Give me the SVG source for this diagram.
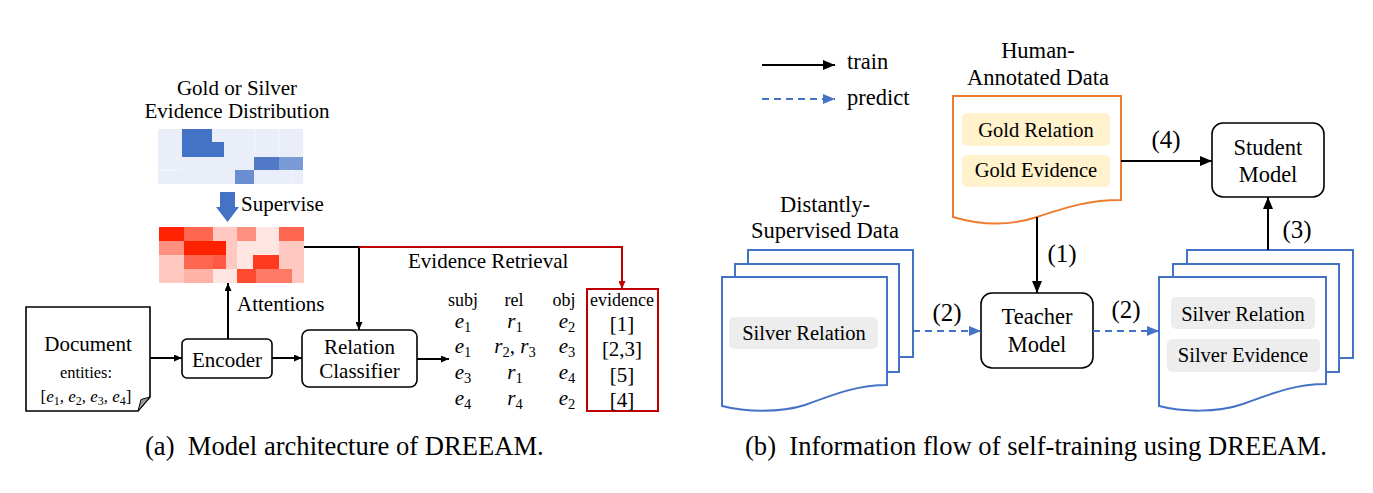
<svg xmlns="http://www.w3.org/2000/svg" width="1373" height="493" viewBox="0 0 1373 493">
<style>
text{font-family:"Liberation Serif","Times New Roman",serif;fill:#000}
.l{font-size:21px}
.r{font-size:22.5px}
.in{font-size:20.5px}
.num{font-size:25px}
.hd{font-size:18px}
.cap{font-size:26.6px}
.c{text-anchor:middle}
.box{fill:#fff;stroke:#000;stroke-width:1.6}
.ln{fill:none;stroke:#000;stroke-width:2}
.bl{fill:none;stroke:#4472c4;stroke-width:2;stroke-dasharray:7,5}
.red{fill:none;stroke:#c00000;stroke-width:2}
.bdoc{fill:#fff;stroke:#4472c4;stroke-width:2}
.gold{fill:#fff2cc}
.silv{fill:#ededed}
.i{font-style:italic}
</style>
<defs>
<marker id="as" markerUnits="userSpaceOnUse" markerWidth="8" markerHeight="7" refX="8" refY="3.5" orient="auto"><path d="M0,0 L8,3.5 L0,7 Z" fill="#000"/></marker>
<marker id="ab" markerUnits="userSpaceOnUse" markerWidth="12" markerHeight="10" refX="12" refY="5" orient="auto"><path d="M0,0 L12,5 L0,10 Z" fill="#000"/></marker>
<marker id="abl" markerUnits="userSpaceOnUse" markerWidth="12" markerHeight="10" refX="12" refY="5" orient="auto"><path d="M0,0 L12,5 L0,10 Z" fill="#4472c4"/></marker>
<marker id="ar" markerUnits="userSpaceOnUse" markerWidth="8" markerHeight="7" refX="8" refY="3.5" orient="auto"><path d="M0,0 L8,3.5 L0,7 Z" fill="#c00000"/></marker>
</defs>

<!-- (a) left panel -->
<g id="gold-silver-dist">
<text class="l c" x="237" y="95">Gold or Silver</text>
<text class="l c" x="237" y="118">Evidence Distribution</text>
<rect x="158" y="129" width="145" height="55" fill="#e9eef8"/>
<g stroke="#f4f7fc" stroke-width="1">
<line x1="255" y1="129" x2="255" y2="157"/><line x1="279" y1="129" x2="279" y2="157"/><line x1="292" y1="170" x2="292" y2="184"/>
<line x1="158" y1="170" x2="182" y2="170"/>
</g>
<rect x="182" y="129" width="30" height="28" fill="#4472c4"/>
<rect x="212" y="142" width="12" height="15" fill="#4472c4"/>
<rect x="254" y="157" width="25" height="13" fill="#5079c8"/>
<rect x="279" y="157" width="24" height="13" fill="#7a9ad6"/>
<rect x="235" y="170" width="19" height="14" fill="#6a8ed2"/>
</g>
<g id="supervise">
<path d="M220,192 H235 V207 H239 L227.5,222 L216,207 H220 Z" fill="#4472c4"/>
<text class="l" x="241" y="211">Supervise</text>
</g>
<g id="attention-map">
<rect x="159" y="227" width="25" height="14" fill="#ff2200"/>
<rect x="184" y="227" width="29" height="14" fill="#ff6650"/>
<rect x="213" y="227" width="24" height="14" fill="#ffc8c0"/>
<rect x="237" y="227" width="19" height="14" fill="#ff9080"/>
<rect x="256" y="227" width="23" height="14" fill="#ffe5e2"/>
<rect x="279" y="227" width="25" height="14" fill="#ff6650"/>
<rect x="159" y="241" width="25" height="14" fill="#ff9080"/>
<rect x="184" y="241" width="42" height="14" fill="#ff2200"/>
<rect x="226" y="241" width="11" height="14" fill="#ffc8c0"/>
<rect x="237" y="241" width="42" height="14" fill="#ffe5e2"/>
<rect x="279" y="241" width="25" height="14" fill="#ffc8c0"/>
<rect x="159" y="255" width="25" height="14" fill="#ffc8c0"/>
<rect x="184" y="255" width="29" height="14" fill="#ff6650"/>
<rect x="213" y="255" width="13" height="14" fill="#ff5a45"/>
<rect x="226" y="255" width="11" height="14" fill="#ffc8c0"/>
<rect x="237" y="255" width="16" height="14" fill="#ffe5e2"/>
<rect x="253" y="255" width="26" height="14" fill="#ff3a20"/>
<rect x="279" y="255" width="25" height="14" fill="#ffc8c0"/>
<rect x="159" y="269" width="25" height="14" fill="#ffc8c0"/>
<rect x="184" y="269" width="29" height="14" fill="#ffb3a7"/>
<rect x="213" y="269" width="24" height="14" fill="#ffe5e2"/>
<rect x="237" y="269" width="19" height="14" fill="#ff4a32"/>
<rect x="256" y="269" width="36" height="14" fill="#ff7a66"/>
<rect x="292" y="269" width="12" height="14" fill="#ffc8c0"/>
</g>
<g id="document">
<path d="M26,307 H150 V397 L138,411 H26 Z" fill="#fff" stroke="#000" stroke-width="1.6"/>
<path d="M150,397 L141,399.5 L138,411 Z" fill="#999" stroke="#000" stroke-width="1"/>
<text class="l c" x="88" y="351">Document</text>
<text class="c" x="86" y="378" font-size="16.5">entities:</text>
<text class="c" x="86" y="402" font-size="17">[<tspan class="i">e</tspan><tspan font-size="12" dy="3">1</tspan><tspan dy="-3">, </tspan><tspan class="i">e</tspan><tspan font-size="12" dy="3">2</tspan><tspan dy="-3">, </tspan><tspan class="i">e</tspan><tspan font-size="12" dy="3">3</tspan><tspan dy="-3">, </tspan><tspan class="i">e</tspan><tspan font-size="12" dy="3">4</tspan><tspan dy="-3">]</tspan></text>
</g>
<g id="encoder">
<rect class="box" x="182" y="339" width="90" height="39" rx="5"/>
<text class="l c" x="227" y="367">Encoder</text>
</g>
<g id="relation-classifier">
<rect class="box" x="302" y="330" width="115" height="57" rx="7"/>
<text class="l c" x="359.5" y="354">Relation</text>
<text class="l c" x="359.5" y="378">Classifier</text>
</g>
<g id="output-table">
<text class="hd c" x="463" y="306">subj</text>
<text class="hd c" x="514" y="306">rel</text>
<text class="hd c" x="564" y="306">obj</text>
<text class="hd c" x="622" y="306">evidence</text>
<g font-size="21">
<text class="c" x="463" y="328"><tspan class="i">e</tspan><tspan font-size="14.5" dy="4">1</tspan></text>
<text class="c" x="515" y="328"><tspan class="i">r</tspan><tspan font-size="14.5" dy="4">1</tspan></text>
<text class="c" x="567" y="328"><tspan class="i">e</tspan><tspan font-size="14.5" dy="4">2</tspan></text>
<text class="c" x="463" y="353"><tspan class="i">e</tspan><tspan font-size="14.5" dy="4">1</tspan></text>
<text class="c" x="515" y="353"><tspan class="i">r</tspan><tspan font-size="14.5" dy="4">2</tspan><tspan dy="-4">, </tspan><tspan class="i">r</tspan><tspan font-size="14.5" dy="4">3</tspan></text>
<text class="c" x="567" y="353"><tspan class="i">e</tspan><tspan font-size="14.5" dy="4">3</tspan></text>
<text class="c" x="463" y="379"><tspan class="i">e</tspan><tspan font-size="14.5" dy="4">3</tspan></text>
<text class="c" x="515" y="379"><tspan class="i">r</tspan><tspan font-size="14.5" dy="4">1</tspan></text>
<text class="c" x="567" y="379"><tspan class="i">e</tspan><tspan font-size="14.5" dy="4">4</tspan></text>
<text class="c" x="463" y="405"><tspan class="i">e</tspan><tspan font-size="14.5" dy="4">4</tspan></text>
<text class="c" x="515" y="405"><tspan class="i">r</tspan><tspan font-size="14.5" dy="4">4</tspan></text>
<text class="c" x="567" y="405"><tspan class="i">e</tspan><tspan font-size="14.5" dy="4">2</tspan></text>
</g>
</g>
<g id="evidence-box">
<rect class="red" x="587" y="289" width="71" height="122"/>
<text class="l c" x="622" y="331">[1]</text>
<text class="l c" x="622" y="356">[2,3]</text>
<text class="l c" x="622" y="382">[5]</text>
<text class="l c" x="622" y="407">[4]</text>
</g>

<!-- (b) right panel -->
<g id="legend">
<line class="ln" x1="762" y1="65" x2="835" y2="65" marker-end="url(#ab)"/>
<text class="r" x="847" y="69">train</text>
<line class="bl" x1="762" y1="99" x2="835" y2="99" marker-end="url(#abl)"/>
<text class="r" x="847" y="105">predict</text>
</g>
<g id="human-annotated-data">
<text class="r c" x="1038" y="58">Human-</text>
<text class="r c" x="1038" y="85">Annotated Data</text>
<path d="M953,96 H1121 V200 C1090,200 1070,206 1037,217 C1010,226 980,225 953,217 Z" fill="#fff" stroke="#ed7d31" stroke-width="2"/>
<rect class="gold" x="962" y="113" width="148" height="33" rx="5"/>
<text class="in c" x="1036" y="137">Gold Relation</text>
<rect class="gold" x="962" y="155" width="148" height="32" rx="5"/>
<text class="in c" x="1036" y="177">Gold Evidence</text>
</g>
<g id="student-model">
<rect class="box" x="1212" y="123" width="112" height="74" rx="11"/>
<text class="r c" x="1268" y="155">Student</text>
<text class="r c" x="1268" y="182">Model</text>
</g>
<g id="teacher-model">
<rect class="box" x="981" y="293" width="112" height="75" rx="11"/>
<text class="r c" x="1037" y="324">Teacher</text>
<text class="r c" x="1037" y="352">Model</text>
</g>
<g id="distantly-supervised-data">
<text class="r c" x="825" y="212">Distantly-</text>
<text class="r c" x="825" y="238">Supervised Data</text>
<rect class="bdoc" x="748" y="250" width="165" height="107"/>
<rect class="bdoc" x="735" y="264" width="164" height="108"/>
<path class="bdoc" d="M722,277 H887 V385 C860,385 840,392 805,405 C780,413 745,412 722,406 Z"/>
<rect class="silv" x="729" y="317" width="149" height="32" rx="5"/>
<text class="in c" x="804" y="340">Silver Relation</text>
</g>
<g id="silver-data">
<rect class="bdoc" x="1187" y="250" width="166" height="108"/>
<rect class="bdoc" x="1173" y="264" width="166" height="108"/>
<path class="bdoc" d="M1159,277 H1326 V384 C1298,384 1278,391 1243,404 C1217,413 1182,412 1159,406 Z"/>
<rect class="silv" x="1171" y="297" width="144" height="32" rx="5"/>
<text class="in c" x="1243" y="321">Silver Relation</text>
<rect class="silv" x="1167" y="339" width="153" height="33" rx="5"/>
<text class="in c" x="1243" y="362">Silver Evidence</text>
</g>

<g id="connectors">
<line class="ln" x1="150" y1="358" x2="182" y2="358" marker-end="url(#as)"/>
<line class="ln" x1="272" y1="358" x2="302" y2="358" marker-end="url(#as)"/>
<line class="ln" x1="228" y1="339" x2="228" y2="283" marker-end="url(#as)"/>
<polyline class="ln" points="304,247 359,247 359,330" marker-end="url(#as)"/>
<polyline class="red" points="359,247 622,247 622,289" marker-end="url(#ar)"/>
<line class="ln" x1="417" y1="359" x2="449" y2="359" marker-end="url(#as)"/>
<text class="l" x="408" y="268">Evidence Retrieval</text>
<text class="l" x="237" y="311">Attentions</text>
<line class="ln" x1="1121" y1="161" x2="1212" y2="161" marker-end="url(#ab)"/>
<text class="num c" x="1166" y="148">(4)</text>
<line class="ln" x1="1037" y1="217" x2="1037" y2="293" marker-end="url(#ab)"/>
<text class="num c" x="1062" y="262">(1)</text>
<line class="ln" x1="1268" y1="250" x2="1268" y2="197" marker-end="url(#ab)"/>
<text class="num c" x="1297" y="238">(3)</text>
<line class="bl" x1="913" y1="331" x2="981" y2="331" marker-end="url(#abl)"/>
<text class="num c" x="947" y="321">(2)</text>
<line class="bl" x1="1093" y1="331" x2="1159" y2="331" marker-end="url(#abl)"/>
<text class="num c" x="1126" y="318">(2)</text>
</g>

<text class="cap" x="145" y="455">(a)&#160; Model architecture of DREEAM.</text>
<text class="cap" x="745" y="455">(b)&#160; Information flow of self-training using DREEAM.</text>
</svg>
